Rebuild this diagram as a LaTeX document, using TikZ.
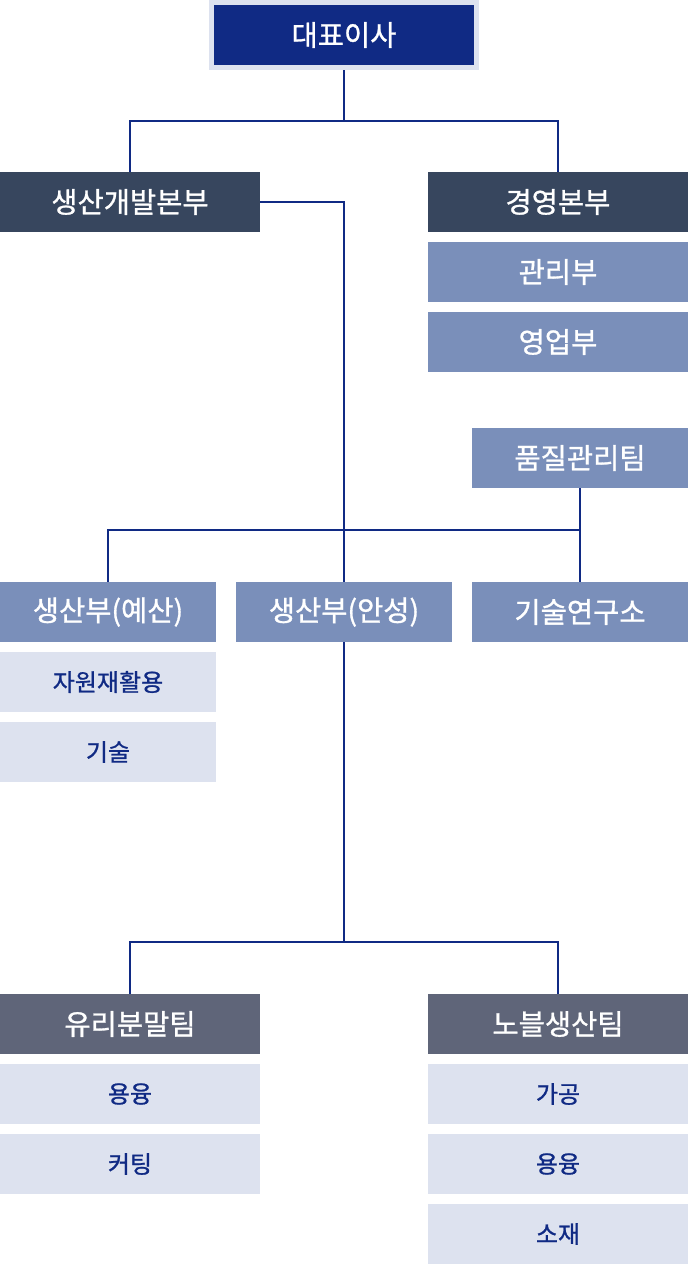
\documentclass[tikz,border=0pt]{standalone}
\usepackage{fontspec}
\setmainfont{Noto Sans CJK KR}
\newfontfamily\krmed{Noto Sans CJK KR}[BoldFont={Noto Sans CJK KR}, BoldFeatures={FakeBold=1}]
\definecolor{navy}{RGB}{16,42,132}
\definecolor{edge}{RGB}{221,226,239}
\definecolor{slate}{RGB}{55,70,94}
\definecolor{steel}{RGB}{122,143,186}
\definecolor{greyblue}{RGB}{95,101,121}
\definecolor{pale}{RGB}{221,226,239}
\begin{document}
\begin{tikzpicture}[
  x=1pt, y=-1pt,
  top/.style={draw=edge, line width=5pt, fill=navy, text=white, inner sep=0pt, minimum width=265pt, minimum height=65pt, font=\krmed\bfseries\fontsize{28.5}{32}\selectfont},
  head/.style={fill=slate, text=white, inner sep=0pt, minimum width=260pt, minimum height=60pt, font=\krmed\bfseries\fontsize{28.5}{32}\selectfont},
  dept/.style={fill=steel, text=white, inner sep=0pt, minimum width=216pt, minimum height=60pt, font=\krmed\bfseries\fontsize{28.5}{32}\selectfont},
  team/.style={fill=greyblue, text=white, inner sep=0pt, minimum width=260pt, minimum height=60pt, font=\krmed\bfseries\fontsize{28.5}{32}\selectfont},
  sub/.style={fill=pale, text=navy, inner sep=0pt, minimum width=216pt, minimum height=60pt, font=\krmed\bfseries\fontsize{24}{28}\selectfont},
  line/.style={draw=navy, line width=2pt},
]
\useasboundingbox (0,0) rectangle (688,1264);
% --- top ---
\node[top] (ceo) at (344,35) {대표이사};
\node[head] (dev) at (130,202) {생산개발본부};
\node[head] (mgmt) at (558,202) {경영본부};
\node[dept, minimum width=260pt] (admin) at (558,272) {관리부};
\node[dept, minimum width=260pt] (sales) at (558,342) {영업부};
\node[dept] (qc) at (580,458) {품질관리팀};

% --- production ---
\node[dept] (yesan) at (108,612) {생산부(예산)};
\node[dept] (ansung) at (344,612) {생산부(안성)};
\node[dept] (lab) at (580,612) {기술연구소};
\node[sub] (recycle) at (108,682) {자원재활용};
\node[sub] (tech) at (108,752) {기술};

% --- teams ---
\node[team] (glass) at (130,1024) {유리분말팀};
\node[team] (noble) at (558,1024) {노블생산팀};
\node[sub, minimum width=260pt] (melt1) at (130,1094) {용융};
\node[sub, minimum width=260pt] (cut) at (130,1164) {커팅};
\node[sub, minimum width=260pt] (proc) at (558,1094) {가공};
\node[sub, minimum width=260pt] (melt2) at (558,1164) {용융};
\node[sub, minimum width=260pt] (mat) at (558,1234) {소재};

% --- connectors ---
\coordinate (j1) at (344,121);
\coordinate (j2) at (344,530);
\coordinate (j3) at (344,942);
\draw[line] (ceo.south) -- (j1);
\draw[line] (j1) -| (dev.north);
\draw[line] (j1) -| (mgmt.north);
\draw[line] (dev.east) -| (ansung.north);
\draw[line] (yesan.north) |- (j2) -| (lab.north);
\draw[line] (qc.south) -- (lab.north);
\draw[line] (ansung.south) -- (j3);
\draw[line] (j3) -| (glass.north);
\draw[line] (j3) -| (noble.north);
\end{tikzpicture}
\end{document}
